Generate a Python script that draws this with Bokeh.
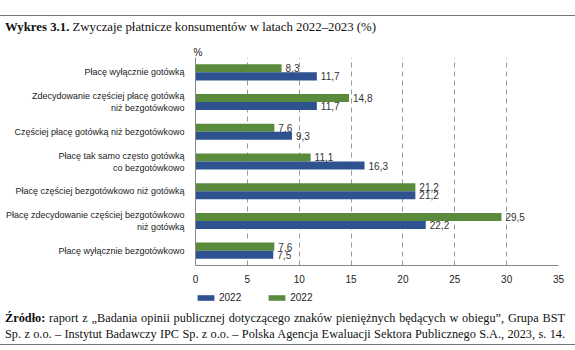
from bokeh.plotting import figure
from bokeh.models import (FactorRange, ColumnDataSource, Legend, LegendItem, Title,
                          FixedTicker, Div)
from bokeh.layouts import column
from bokeh.transform import dodge
from bokeh.embed import file_html
from bokeh.resources import INLINE

categories = [
    "Płacę wyłącznie gotówką",
    "Zdecydowanie częściej płacę gotówką\nniż bezgotówkowo",
    "Częściej płacę gotówką niż bezgotówkowo",
    "Płacę tak samo często gotówką\nco bezgotówkowo",
    "Płacę częściej bezgotówkowo niż gotówką",
    "Płacę zdecydowanie częściej bezgotówkowo\nniż gotówką",
    "Płacę wyłącznie bezgotówkowo",
]
values_blue = [11.7, 11.7, 9.3, 16.3, 21.2, 22.2, 7.5]
values_green = [8.3, 14.8, 7.6, 11.1, 21.2, 29.5, 7.6]
legend_labels = ["2022", "2022"]
x_ticks = [0, 5, 10, 15, 20, 25, 30, 35]
unit_label = "%"
title_bold = "Wykres 3.1."
title_rest = "Zwyczaje płatnicze konsumentów w latach 2022–2023 (%)"
source_bold = "Źródło:"
source_line1 = "raport z „Badania opinii publicznej dotyczącego znaków pieniężnych będących w obiegu”, Grupa BST"
source_line2 = "Sp. z o.o. – Instytut Badawczy IPC Sp. z o.o. – Polska Agencja Ewaluacji Sektora Publicznego S.A., 2023, s. 14."

BLUE = "#2E528F"
GREEN = "#5A8A3C"
SANS = "Liberation Sans"
SERIF = "Liberation Serif"

def fmt(v):
    return f"{v:.1f}".replace(".", ",")

src = ColumnDataSource(dict(
    cat=categories,
    blue=values_blue,
    green=values_green,
    blue_lbl=[fmt(v) for v in values_blue],
    green_lbl=[fmt(v) for v in values_green],
))

# ---------------- main chart ----------------
p = figure(width=575, height=245, output_backend="svg", toolbar_location=None,
           y_range=FactorRange(factors=list(reversed(categories))),
           x_range=(0, 35),
           min_border_left=195, min_border_right=17, min_border_top=17,
           min_border_bottom=17, margin=0,
           title=Title(text=unit_label, align="left", offset=-2, standoff=0,
                       text_font=SANS, text_font_size="10px",
                       text_font_style="normal", text_color="#222222"))
p.outline_line_color = None

off = 0.135
hh = 0.27
r_green = p.hbar(y=dodge("cat", off, range=p.y_range), right="green", left=0, height=hh,
                 source=src, fill_color=GREEN, line_color=None)
r_blue = p.hbar(y=dodge("cat", -off, range=p.y_range), right="blue", left=0, height=hh,
                source=src, fill_color=BLUE, line_color=None)

p.text(x="green", y=dodge("cat", off, range=p.y_range), text="green_lbl", source=src,
       x_offset=4, text_baseline="middle", text_font_size="10px", text_color="#333333",
       text_font={"value": SANS})
p.text(x="blue", y=dodge("cat", -off, range=p.y_range), text="blue_lbl", source=src,
       x_offset=4, text_baseline="middle", text_font_size="10px", text_color="#333333",
       text_font={"value": SANS})

p.xaxis.ticker = FixedTicker(ticks=x_ticks)
p.xaxis.major_tick_line_color = None
p.xaxis.minor_tick_line_color = None
p.xaxis.axis_line_color = "#888888"
p.xaxis.major_label_text_font = SANS
p.xaxis.major_label_text_font_size = "10px"
p.xaxis.major_label_text_color = "#222222"
p.xaxis.major_label_standoff = 3

p.yaxis.major_tick_line_color = None
p.yaxis.minor_tick_line_color = None
p.yaxis.axis_line_color = "#888888"
p.yaxis.major_label_text_font = SANS
p.yaxis.major_label_text_font_size = "9px"
p.yaxis.major_label_text_color = "#222222"
p.yaxis.major_label_standoff = 5

p.ygrid.grid_line_color = None
p.xgrid.ticker = FixedTicker(ticks=x_ticks[1:])
p.xgrid.grid_line_color = "#999999"
p.xgrid.grid_line_dash = "5 4"
p.xgrid.grid_line_width = 1

# ---------------- legend strip ----------------
lg = figure(width=575, height=20, output_backend="svg", toolbar_location=None,
            x_range=(0, 1), y_range=(0, 1), x_axis_location=None, y_axis_location=None,
            min_border=0, margin=0)
lg.outline_line_color = None
lg.xgrid.grid_line_color = None
lg.ygrid.grid_line_color = None
# off-range proxy renderers so the legend has glyphs to draw
lb = lg.hbar(y=[-10], right=[1], height=0.5, fill_color=BLUE, line_color=None)
lgn = lg.hbar(y=[-10], right=[1], height=0.5, fill_color=GREEN, line_color=None)
legend = Legend(items=[LegendItem(label=legend_labels[0], renderers=[lb]),
                       LegendItem(label=legend_labels[1], renderers=[lgn])],
                orientation="horizontal", location=(0, 2),
                glyph_width=21, glyph_height=7, label_height=8, label_width=20,
                label_standoff=3, spacing=25, padding=0, margin=0,
                label_text_font=SANS, label_text_font_size="10px",
                label_text_color="#222222", border_line_color=None,
                background_fill_alpha=0)
lg.add_layout(legend, "center")

# ---------------- title & footer ----------------
title_div = Div(width=575, height=40, margin=0, text=(
    '<div style="position:relative;width:575px;height:40px;">'
    '<div style="position:absolute;left:0;top:15px;width:575px;height:0;'
    'border-top:1.5px solid #777;"></div>'
    f'<div style="position:absolute;left:5px;top:19px;font-family:\'{SERIF}\';'
    'font-size:12.8px;line-height:16px;color:#111;white-space:nowrap;">'
    f'<b>{title_bold}</b> {title_rest}</div></div>'))

foot_div = Div(width=575, height=45, margin=0, text=(
    '<div style="position:relative;width:575px;height:45px;">'
    f'<div style="position:absolute;left:5px;top:5px;width:560px;font-family:\'{SERIF}\';'
    'font-size:12.3px;line-height:16px;color:#111;white-space:nowrap;'
    'text-align:justify;text-align-last:justify;">'
    f'<div style="text-align-last:justify;"><b>{source_bold}</b> {source_line1}</div>'
    f'<div style="text-align-last:justify;">{source_line2}</div></div>'
    '<div style="position:absolute;left:0;top:39px;width:575px;height:0;'
    'border-top:1.5px solid #777;"></div></div>'))

layout = column(title_div, p, lg, foot_div, spacing=0, margin=0)

open("out.html", "w").write(file_html(layout, INLINE))
